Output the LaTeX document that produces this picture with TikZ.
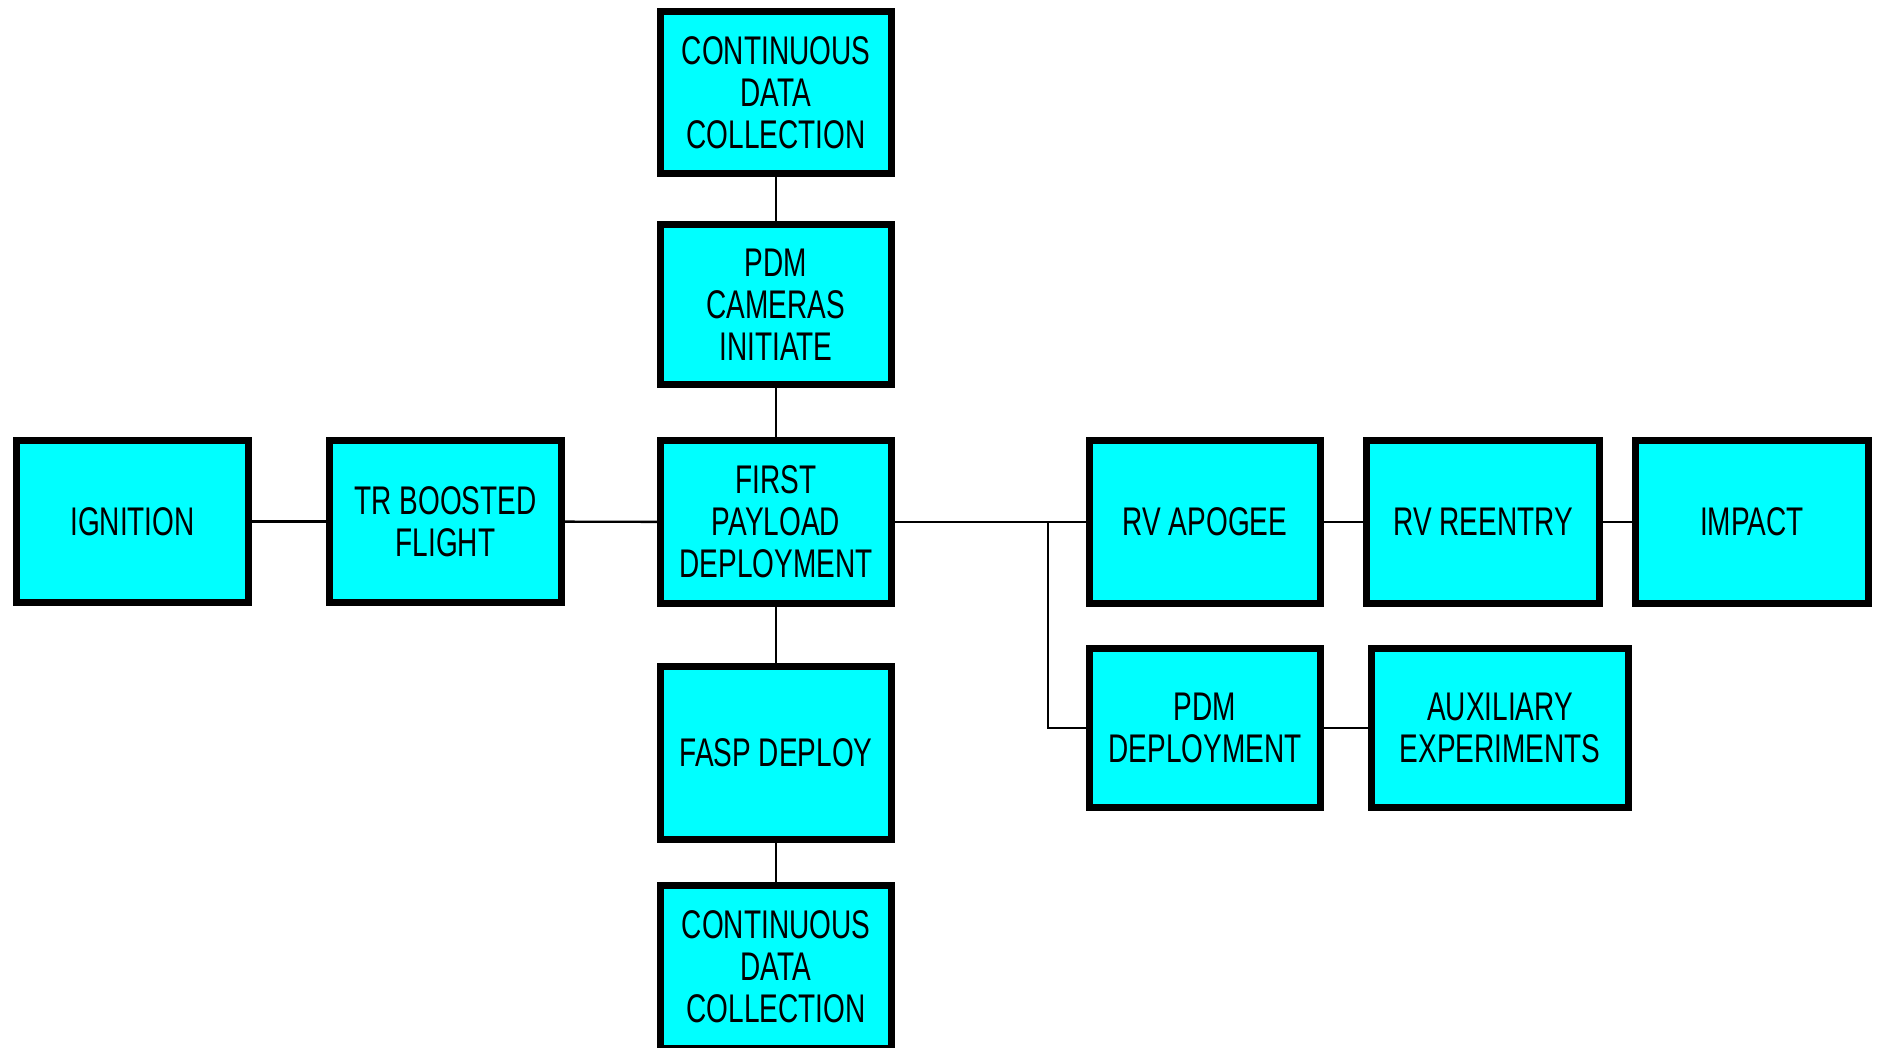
\documentclass[tikz,border=0pt]{standalone}
\usepackage{fontspec}
\setmainfont[FakeStretch=0.7]{Liberation Sans}
\definecolor{stagefill}{RGB}{0,255,255}
\begin{document}
\begin{tikzpicture}[x=0.5pt,y=-0.5pt,
  stage/.style={draw=black, line width=3.5pt, fill=stagefill, align=center,
    inner sep=0pt, font=\fontsize{20}{21}\selectfont,
    minimum width=116pt, minimum height=81pt},
  link/.style={draw=black, line width=1.2pt}]
\useasboundingbox (0,0) rectangle (1877,1048);

% main flight sequence
\node[stage] (ign) at (132.5,521.5) {IGNITION};
\node[stage] (tr)  at (445.5,521.5) {TR BOOSTED\\FLIGHT};
\node[stage, minimum width=115.5pt, minimum height=81.5pt] (fpd) at (776,522) {FIRST\\PAYLOAD\\DEPLOYMENT};

% vertical column through the first deployment
\node[stage, minimum width=115.5pt] (cdcA) at (776,92.5) {CONTINUOUS\\DATA\\COLLECTION};
\node[stage, minimum width=115.5pt, minimum height=80pt] (pdmc) at (776,304.5) {PDM\\CAMERAS\\INITIATE};
\node[stage, minimum width=115.5pt, minimum height=86.5pt] (fasp) at (776,753) {FASP DEPLOY};
\node[stage, minimum width=115.5pt, minimum height=81.5pt] (cdcB) at (776,967) {CONTINUOUS\\DATA\\COLLECTION};

% reentry vehicle branch
\node[stage, minimum width=115.5pt, minimum height=81.5pt] (rva) at (1205,522) {RV APOGEE};
\node[stage, minimum width=116.5pt, minimum height=81.5pt] (rvr) at (1483,522) {RV REENTRY};
\node[stage, minimum width=116.5pt, minimum height=81.5pt] (imp) at (1752,522) {IMPACT};

% PDM branch
\node[stage, minimum width=115.5pt, minimum height=79.5pt] (pdmd) at (1205,728) {PDM\\DEPLOYMENT};
\node[stage, minimum width=128.5pt, minimum height=79.5pt] (aux) at (1500,728) {AUXILIARY\\EXPERIMENTS};

\coordinate (split) at (1048,522);

% connectors
\draw[link] (ign) -- (tr);
\draw[link] (tr) -- (fpd);
\draw[link] (cdcA) -- (pdmc);
\draw[link] (pdmc) -- (fpd);
\draw[link] (fpd) -- (fasp);
\draw[link] (fasp) -- (cdcB);
\draw[link] (fpd) -- (rva);
\draw[link] (rva) -- (rvr);
\draw[link] (rvr) -- (imp);
\draw[link] (split) |- (pdmd.west);
\draw[link] (pdmd) -- (aux);
\end{tikzpicture}
\end{document}
